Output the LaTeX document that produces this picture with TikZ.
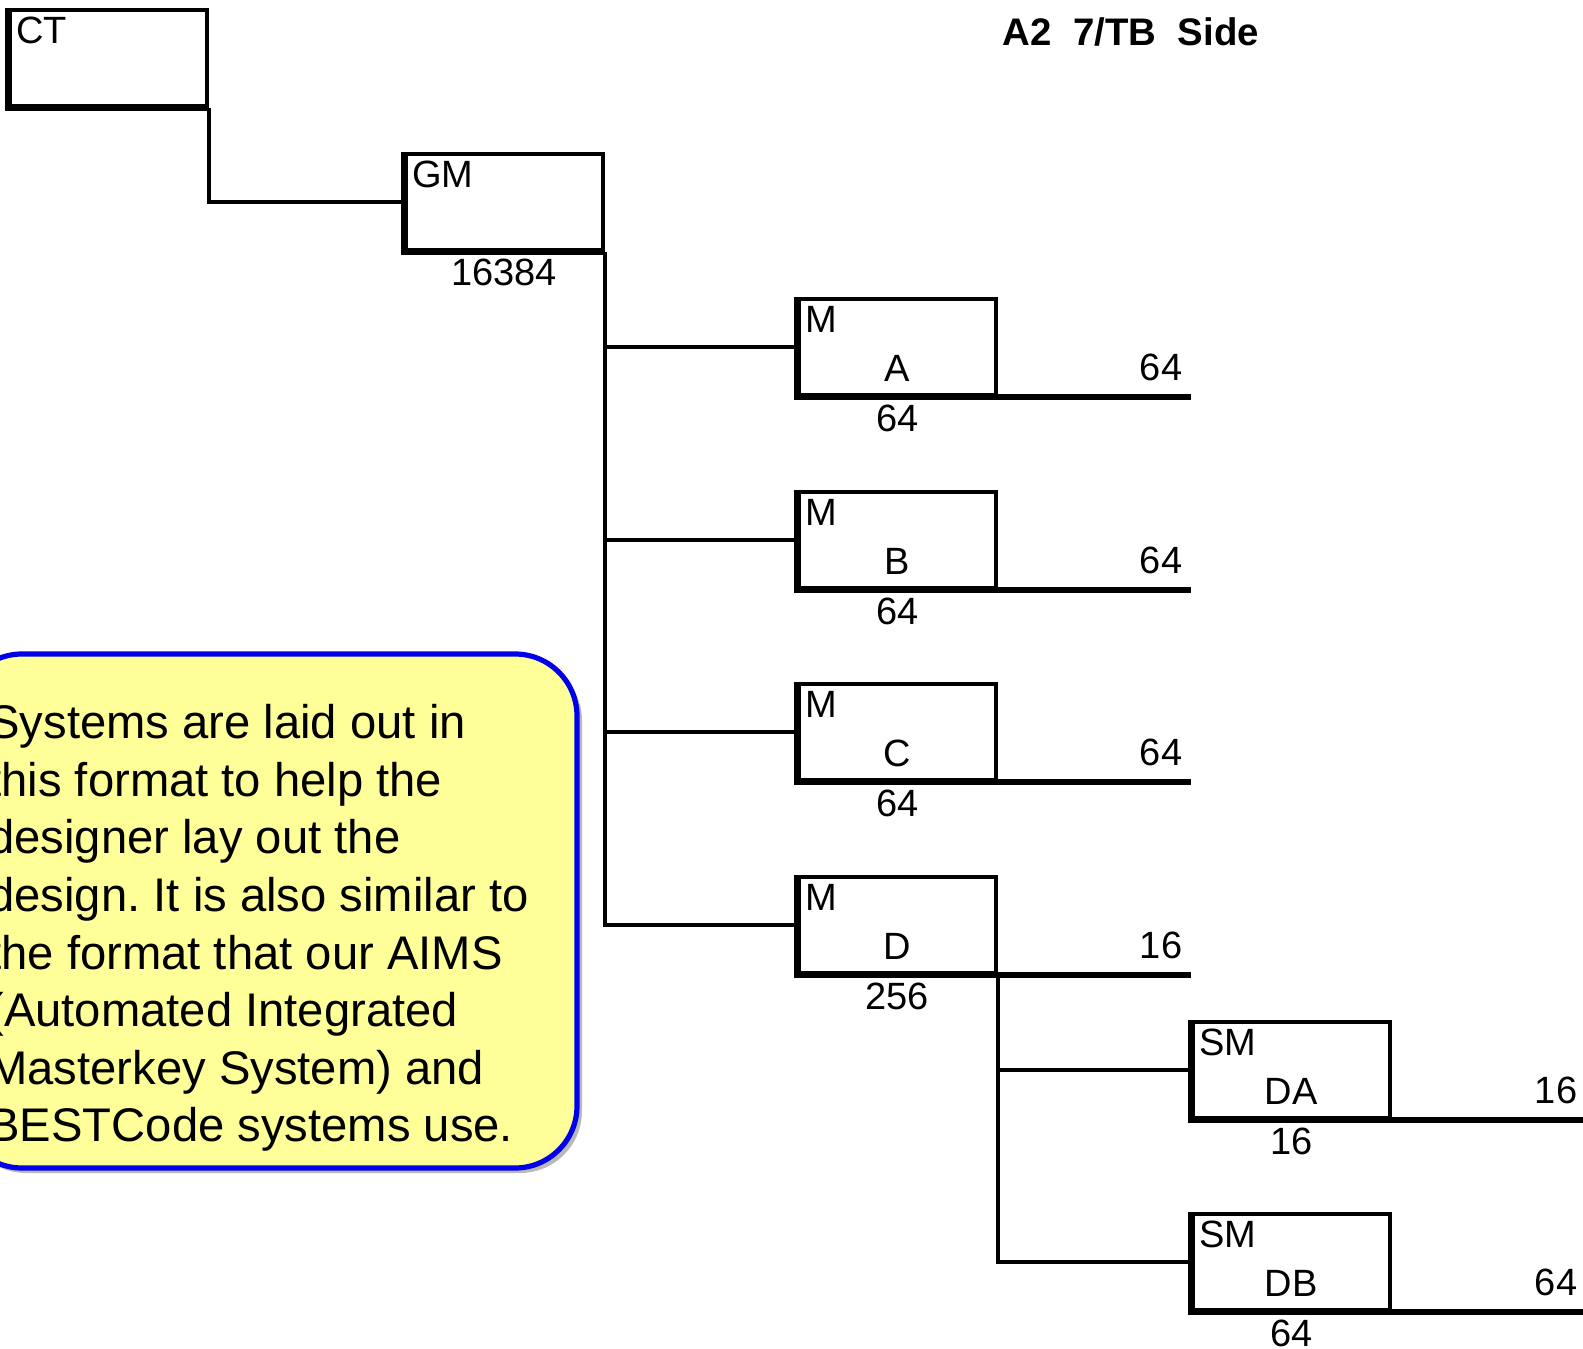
\documentclass[tikz,border=0pt]{standalone}
\usepackage{fontspec}
\setmainfont{Liberation Sans}
\usepackage{tikz}
\usetikzlibrary{positioning}
\definecolor{noteyellow}{RGB}{255,255,153}
\definecolor{noteblue}{RGB}{0,0,235}
\frenchspacing

\tikzset{
  keybox/.style={draw,line width=1.8pt,minimum width=98.5pt,minimum height=48pt,inner sep=0pt,anchor=north west},
  wire/.style={line width=2pt},
  heavy/.style={line width=3pt},
  tagtext/.style={inner sep=0pt,anchor=north west,font=\fontsize{19pt}{22pt}\selectfont},
  numtext/.style={inner sep=0pt,anchor=base,font=\fontsize{19pt}{22pt}\selectfont},
  endtext/.style={inner sep=0pt,anchor=base east,font=\fontsize{19pt}{22pt}\selectfont},
}

\begin{document}
\begin{tikzpicture}[x=0.5pt,y=-0.5pt]
        \useasboundingbox (0,0) rectangle (1583,1348);
        \clip (0,0) rectangle (1583,1348);
        % note on the left
        \fill[gray!55,rounded corners=31pt] (-36,659) rectangle (582,1173);
        \draw[line width=2.6pt,noteblue,fill=noteyellow,rounded corners=31pt] (-40,654) rectangle (577,1168);
        \node[anchor=north west,align=left,inner sep=0pt,font=\fontsize{23.6pt}{28.8pt}\selectfont] (note) at (-12,704)
          {Systems are laid out in\\this format to help the\\designer lay out the\\design. It is also similar to\\the format that our AIMS\\(Automated Integrated\\Masterkey System) and\\BESTCode systems use.};
        \node[anchor=base,inner sep=0pt,font=\fontsize{19.2pt}{22pt}\selectfont\bfseries] (title) at (1131,46) {A2~~7/TB~~Side};
        % boxes
        \node[keybox] (ct) at (8,8) {};
        \node[keybox] (gm) at (404,152) {};
        \node[keybox] (ma) at (797,297) {};
        \node[keybox] (mb) at (797,490) {};
        \node[keybox] (mc) at (797,682) {};
        \node[keybox] (md) at (797,875) {};
        \node[keybox] (da) at (1191,1020) {};
        \node[keybox] (db) at (1191,1212) {};
        \foreach \b in {ct,gm,ma,mb,mc,md,da,db}
          \draw[heavy] (\b.north west) -- (\b.south west) -- (\b.south east);
        % texts in the boxes
        \node[tagtext] (ctT) at ([shift={(8,9)}]ct.north west) {CT};
        \node[tagtext] (gmT) at ([shift={(8,9)}]gm.north west) {GM};
        \node[tagtext] (maT) at ([shift={(8,9)}]ma.north west) {M};
        \node[tagtext] (mbT) at ([shift={(8,9)}]mb.north west) {M};
        \node[tagtext] (mcT) at ([shift={(8,9)}]mc.north west) {M};
        \node[tagtext] (mdT) at ([shift={(8,9)}]md.north west) {M};
        \node[tagtext] (daT) at ([shift={(8,9)}]da.north west) {SM};
        \node[tagtext] (dbT) at ([shift={(8,9)}]db.north west) {SM};
        \node[numtext] (maL) at ([shift={(0,-15)}]ma.south) {A};
        \node[numtext] (mbL) at ([shift={(0,-15)}]mb.south) {B};
        \node[numtext] (mcL) at ([shift={(0,-15)}]mc.south) {C};
        \node[numtext] (mdL) at ([shift={(0,-15)}]md.south) {D};
        \node[numtext] (daL) at ([shift={(0,-15)}]da.south) {DA};
        \node[numtext] (dbL) at ([shift={(0,-15)}]db.south) {DB};
        % counts under the boxes
        \node[numtext] (gmN) at ([shift={(0,34)}]gm.south) {16384};
        \node[numtext] (maN) at ([shift={(0,35)}]ma.south) {64};
        \node[numtext] (mbN) at ([shift={(0,35)}]mb.south) {64};
        \node[numtext] (mcN) at ([shift={(0,35)}]mc.south) {64};
        \node[numtext] (mdN) at ([shift={(0,35)}]md.south) {256};
        \node[numtext] (daN) at ([shift={(0,35)}]da.south) {16};
        \node[numtext] (dbN) at ([shift={(0,35)}]db.south) {64};
        % connectors
        \draw[wire] (ct.south east) |- (gm.west);
        \draw[wire] (gm.south east) |- (md.west);
        \draw[wire] (gm.south east |- ma.west) -- (ma.west);
        \draw[wire] (gm.south east |- mb.west) -- (mb.west);
        \draw[wire] (gm.south east |- mc.west) -- (mc.west);
        \draw[wire] (md.south east) |- (db.west);
        \draw[wire] (md.south east |- da.west) -- (da.west);
        % lines out to the right
        \draw[heavy] (ma.south east) -- ++(193,0) coordinate (maE);
        \draw[heavy] (mb.south east) -- ++(193,0) coordinate (mbE);
        \draw[heavy] (mc.south east) -- ++(193,0) coordinate (mcE);
        \draw[heavy] (md.south east) -- ++(193,0) coordinate (mdE);
        \draw[heavy] (da.south east) -- ++(200,0) coordinate (daE);
        \draw[heavy] (db.south east) -- ++(200,0) coordinate (dbE);
        \node[endtext] (maR) at ([shift={(-8,-16)}]maE) {64};
        \node[endtext] (mbR) at ([shift={(-8,-16)}]mbE) {64};
        \node[endtext] (mcR) at ([shift={(-8,-16)}]mcE) {64};
        \node[endtext] (mdR) at ([shift={(-8,-16)}]mdE) {16};
        \node[endtext] (daR) at ([shift={(-14,-16)}]daE) {16};
        \node[endtext] (dbR) at ([shift={(-14,-16)}]dbE) {64};
      \end{tikzpicture}
\end{document}
